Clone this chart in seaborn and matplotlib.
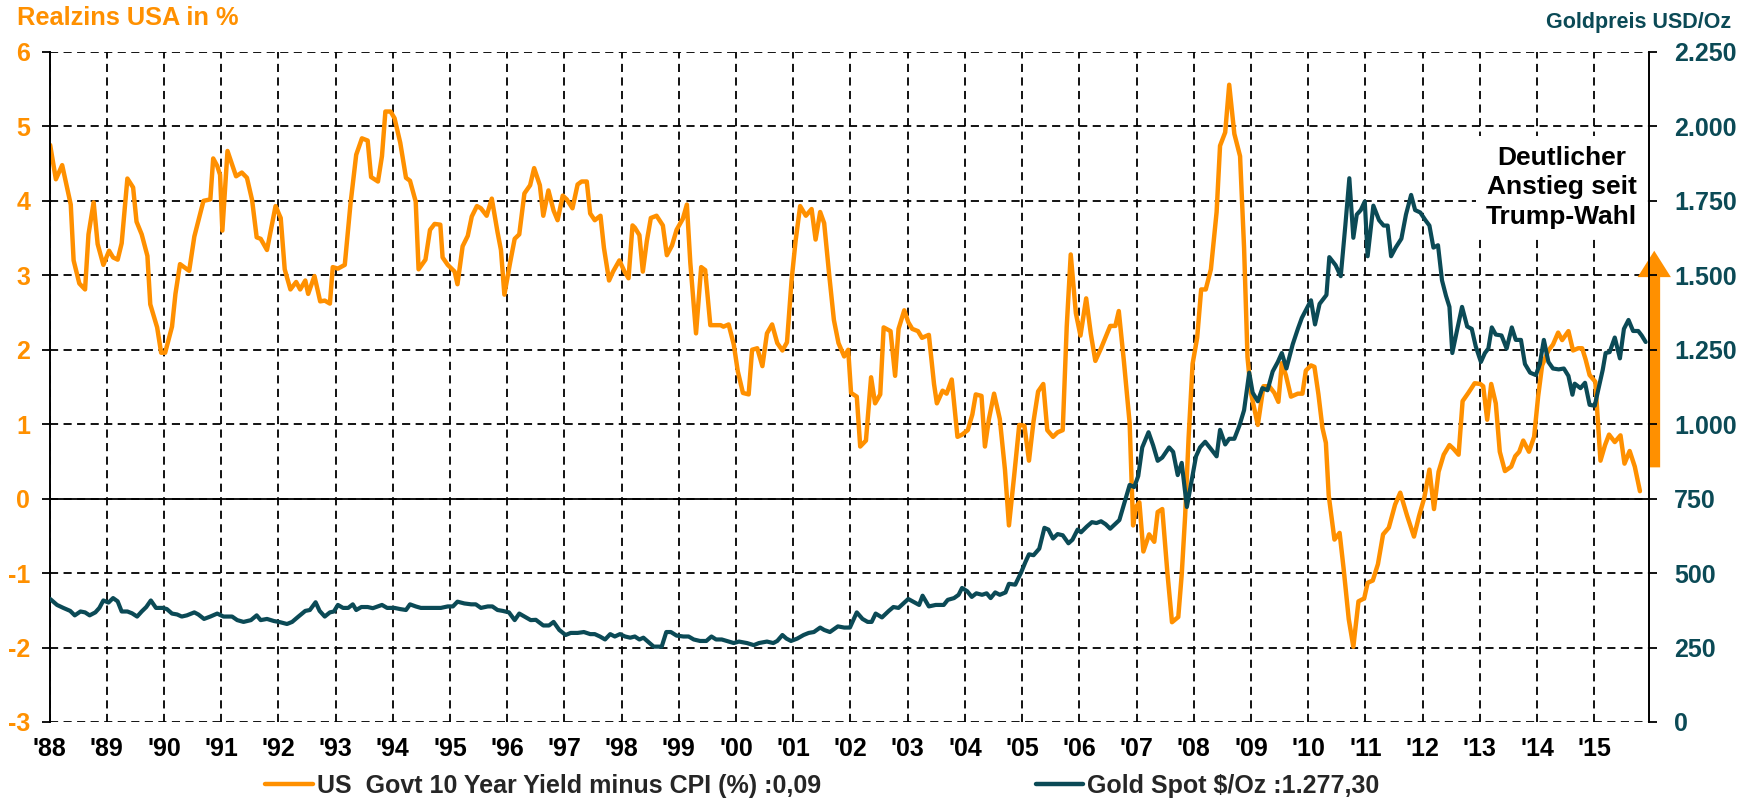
import pandas as pd
import seaborn as sns
import matplotlib.pyplot as plt
from matplotlib.ticker import FuncFormatter
from matplotlib.lines import Line2D

# Realzins USA (10J Rendite minus CPI)
jahre_zins = [
    1988.01, 1988.11, 1988.22, 1988.37, 1988.42, 1988.52, 1988.62, 1988.68, 1988.77, 1988.84,
    1988.94, 1989.04, 1989.11, 1989.19, 1989.26, 1989.36, 1989.46, 1989.52, 1989.61, 1989.71,
    1989.76, 1989.88, 1989.95, 1990.02, 1990.14, 1990.20, 1990.28, 1990.44, 1990.53, 1990.62,
    1990.69, 1990.81, 1990.86, 1990.93, 1990.98, 1991.02, 1991.11, 1991.19, 1991.26, 1991.36,
    1991.45, 1991.54, 1991.62, 1991.69, 1991.80, 1991.95, 1992.04, 1992.11, 1992.21, 1992.31,
    1992.38, 1992.47, 1992.52, 1992.63, 1992.73, 1992.81, 1992.90, 1992.95, 1993.04, 1993.16,
    1993.26, 1993.36, 1993.46, 1993.56, 1993.62, 1993.74, 1993.81, 1993.87, 1993.96, 1994.03,
    1994.13, 1994.23, 1994.30, 1994.40, 1994.45, 1994.57, 1994.65, 1994.73, 1994.83, 1994.87,
    1994.96, 1995.08, 1995.13, 1995.22, 1995.31, 1995.38, 1995.47, 1995.54, 1995.64, 1995.73,
    1995.83, 1995.89, 1995.95, 1996.05, 1996.13, 1996.21, 1996.30, 1996.40, 1996.47, 1996.57,
    1996.63, 1996.72, 1996.81, 1996.88, 1996.97, 1997.04, 1997.14, 1997.23, 1997.30, 1997.39,
    1997.45, 1997.53, 1997.63, 1997.69, 1997.78, 1997.85, 1997.96, 1998.05, 1998.12, 1998.19,
    1998.23, 1998.31, 1998.37, 1998.44, 1998.51, 1998.61, 1998.72, 1998.79, 1998.88, 1998.96,
    1999.07, 1999.14, 1999.20, 1999.30, 1999.39, 1999.46, 1999.55, 1999.73, 1999.78, 1999.87,
    1999.96, 2000.03, 2000.12, 2000.22, 2000.28, 2000.37, 2000.46, 2000.54, 2000.63, 2000.72,
    2000.81, 2000.89, 2000.97, 2001.04, 2001.12, 2001.22, 2001.32, 2001.39, 2001.47, 2001.54,
    2001.63, 2001.71, 2001.79, 2001.89, 2001.96, 2002.01, 2002.11, 2002.17, 2002.27, 2002.36,
    2002.43, 2002.52, 2002.58, 2002.70, 2002.78, 2002.84, 2002.94, 2003.01, 2003.08, 2003.18,
    2003.25, 2003.37, 2003.46, 2003.51, 2003.61, 2003.68, 2003.77, 2003.87, 2003.95, 2004.05,
    2004.13, 2004.19, 2004.29, 2004.35, 2004.42, 2004.51, 2004.61, 2004.70, 2004.77, 2004.86,
    2004.95, 2005.04, 2005.12, 2005.20, 2005.28, 2005.37, 2005.44, 2005.54, 2005.62, 2005.71,
    2005.78, 2005.85, 2005.94, 2006.02, 2006.12, 2006.20, 2006.28, 2006.38, 2006.47, 2006.54,
    2006.63, 2006.69, 2006.78, 2006.88, 2006.94, 2006.99, 2007.05, 2007.12, 2007.22, 2007.31,
    2007.37, 2007.45, 2007.54, 2007.62, 2007.73, 2007.79, 2007.85, 2007.91, 2007.98, 2008.06,
    2008.13, 2008.21, 2008.30, 2008.40, 2008.46, 2008.55, 2008.62, 2008.71, 2008.81, 2008.88,
    2008.94, 2009.00, 2009.12, 2009.22, 2009.32, 2009.41, 2009.48, 2009.54, 2009.61, 2009.70,
    2009.82, 2009.90, 2009.96, 2010.05, 2010.11, 2010.18, 2010.25, 2010.31, 2010.36, 2010.46,
    2010.55, 2010.62, 2010.71, 2010.79, 2010.88, 2010.98, 2011.04, 2011.13, 2011.22, 2011.31,
    2011.41, 2011.52, 2011.61, 2011.73, 2011.85, 2011.94, 2012.03, 2012.12, 2012.20, 2012.28,
    2012.37, 2012.47, 2012.54, 2012.63, 2012.70, 2012.80, 2012.91, 2013.01, 2013.06, 2013.13,
    2013.20, 2013.28, 2013.35, 2013.44, 2013.55, 2013.62, 2013.69, 2013.76, 2013.86, 2013.95,
    2014.02, 2014.09, 2014.20, 2014.28, 2014.37, 2014.44, 2014.55, 2014.63, 2014.72, 2014.79,
    2014.85, 2014.92, 2015.02, 2015.11, 2015.19, 2015.26, 2015.36, 2015.46, 2015.53, 2015.62,
    2015.71, 2015.80,
]
realzins = [
    4.75, 4.29, 4.48, 3.95, 3.20, 2.89, 2.81, 3.55, 3.98, 3.42,
    3.14, 3.33, 3.24, 3.21, 3.43, 4.30, 4.18, 3.72, 3.55, 3.26,
    2.61, 2.30, 1.96, 1.96, 2.31, 2.75, 3.15, 3.06, 3.52, 3.79,
    4.00, 4.02, 4.57, 4.47, 4.35, 3.60, 4.67, 4.49, 4.33, 4.38,
    4.31, 4.01, 3.51, 3.49, 3.34, 3.93, 3.77, 3.08, 2.81, 2.91,
    2.81, 2.93, 2.75, 2.99, 2.65, 2.66, 2.62, 3.11, 3.09, 3.14,
    3.96, 4.62, 4.84, 4.81, 4.32, 4.26, 4.60, 5.20, 5.20, 5.11,
    4.78, 4.31, 4.27, 3.99, 3.08, 3.21, 3.61, 3.69, 3.68, 3.24,
    3.14, 3.05, 2.88, 3.39, 3.53, 3.79, 3.93, 3.90, 3.80, 4.03,
    3.58, 3.34, 2.74, 3.17, 3.49, 3.55, 4.10, 4.21, 4.44, 4.21,
    3.80, 4.14, 3.87, 3.74, 4.07, 4.02, 3.90, 4.22, 4.26, 4.26,
    3.83, 3.74, 3.80, 3.37, 2.93, 3.05, 3.20, 3.05, 2.96, 3.67,
    3.64, 3.54, 3.05, 3.46, 3.77, 3.80, 3.67, 3.27, 3.40, 3.61,
    3.76, 3.95, 3.17, 2.22, 3.11, 3.07, 2.33, 2.33, 2.31, 2.34,
    2.07, 1.71, 1.42, 1.40, 2.00, 2.02, 1.78, 2.22, 2.34, 2.09,
    1.99, 2.10, 2.93, 3.46, 3.93, 3.80, 3.89, 3.48, 3.85, 3.70,
    2.99, 2.40, 2.09, 1.91, 2.00, 1.42, 1.37, 0.70, 0.78, 1.63,
    1.28, 1.40, 2.30, 2.25, 1.65, 2.28, 2.53, 2.37, 2.28, 2.25,
    2.16, 2.20, 1.54, 1.28, 1.45, 1.41, 1.60, 0.83, 0.86, 0.92,
    1.13, 1.40, 1.38, 0.70, 1.07, 1.41, 1.07, 0.39, -0.36, 0.30,
    0.99, 0.98, 0.51, 1.04, 1.44, 1.54, 0.92, 0.83, 0.89, 0.92,
    2.31, 3.28, 2.49, 2.19, 2.69, 2.22, 1.85, 2.02, 2.19, 2.32,
    2.32, 2.52, 1.84, 1.01, -0.36, -0.11, -0.05, -0.71, -0.48, -0.58,
    -0.18, -0.14, -1.00, -1.66, -1.59, -1.02, -0.23, 0.81, 1.81, 2.16,
    2.81, 2.81, 3.08, 3.85, 4.74, 4.92, 5.56, 4.90, 4.60, 3.37,
    1.90, 1.42, 0.99, 1.51, 1.51, 1.42, 1.30, 1.82, 1.66, 1.37,
    1.41, 1.41, 1.72, 1.79, 1.77, 1.40, 0.95, 0.75, 0.04, -0.55,
    -0.46, -0.94, -1.62, -1.99, -1.38, -1.34, -1.13, -1.10, -0.88, -0.48,
    -0.39, -0.08, 0.08, -0.23, -0.51, -0.23, 0.01, 0.39, -0.14, 0.36,
    0.59, 0.72, 0.67, 0.59, 1.31, 1.42, 1.55, 1.54, 1.51, 1.06,
    1.54, 1.28, 0.63, 0.37, 0.43, 0.57, 0.63, 0.78, 0.63, 0.83,
    1.37, 1.79, 1.99, 2.07, 2.23, 2.13, 2.25, 1.99, 2.02, 2.02,
    1.87, 1.66, 1.57, 0.51, 0.72, 0.86, 0.76, 0.85, 0.47, 0.64,
    0.43, 0.10,
]

# Goldpreis USD/Oz
jahre_gold = [
    1988.01, 1988.13, 1988.24, 1988.36, 1988.44, 1988.54, 1988.62, 1988.70, 1988.80, 1988.87,
    1988.94, 1989.03, 1989.11, 1989.19, 1989.26, 1989.36, 1989.44, 1989.53, 1989.61, 1989.69,
    1989.77, 1989.86, 1989.98, 1990.05, 1990.14, 1990.23, 1990.31, 1990.40, 1990.53, 1990.60,
    1990.70, 1990.81, 1990.93, 1991.04, 1991.19, 1991.28, 1991.39, 1991.52, 1991.62, 1991.69,
    1991.80, 1991.92, 1992.03, 1992.15, 1992.24, 1992.35, 1992.47, 1992.55, 1992.65, 1992.72,
    1992.81, 1992.90, 1992.97, 1993.04, 1993.13, 1993.22, 1993.30, 1993.36, 1993.45, 1993.56,
    1993.65, 1993.81, 1993.90, 1994.03, 1994.13, 1994.23, 1994.30, 1994.40, 1994.49, 1994.67,
    1994.84, 1994.96, 1995.05, 1995.13, 1995.25, 1995.37, 1995.45, 1995.54, 1995.66, 1995.74,
    1995.83, 1995.92, 1996.03, 1996.13, 1996.21, 1996.33, 1996.41, 1996.50, 1996.63, 1996.73,
    1996.81, 1996.91, 1997.02, 1997.11, 1997.23, 1997.34, 1997.45, 1997.53, 1997.62, 1997.71,
    1997.80, 1997.88, 1997.97, 1998.06, 1998.15, 1998.23, 1998.31, 1998.38, 1998.47, 1998.56,
    1998.70, 1998.78, 1998.86, 1998.96, 1999.08, 1999.17, 1999.26, 1999.37, 1999.48, 1999.57,
    1999.65, 1999.75, 1999.87, 1999.96, 2000.05, 2000.19, 2000.31, 2000.40, 2000.54, 2000.65,
    2000.72, 2000.81, 2000.88, 2000.96, 2001.07, 2001.18, 2001.27, 2001.36, 2001.47, 2001.54,
    2001.64, 2001.78, 2001.89, 2001.99, 2002.11, 2002.21, 2002.30, 2002.37, 2002.44, 2002.55,
    2002.67, 2002.75, 2002.84, 2003.01, 2003.20, 2003.26, 2003.37, 2003.49, 2003.63, 2003.70,
    2003.81, 2003.89, 2003.95, 2004.04, 2004.12, 2004.20, 2004.30, 2004.38, 2004.45, 2004.53,
    2004.61, 2004.71, 2004.77, 2004.88, 2004.98, 2005.06, 2005.12, 2005.20, 2005.30, 2005.39,
    2005.46, 2005.54, 2005.62, 2005.71, 2005.81, 2005.88, 2005.97, 2006.03, 2006.13, 2006.22,
    2006.30, 2006.38, 2006.46, 2006.54, 2006.70, 2006.78, 2006.88, 2006.96, 2007.03, 2007.10,
    2007.21, 2007.29, 2007.37, 2007.45, 2007.57, 2007.64, 2007.72, 2007.79, 2007.88, 2007.97,
    2008.04, 2008.11, 2008.20, 2008.30, 2008.40, 2008.46, 2008.55, 2008.62, 2008.71, 2008.80,
    2008.88, 2008.97, 2009.03, 2009.12, 2009.20, 2009.29, 2009.38, 2009.47, 2009.54, 2009.62,
    2009.73, 2009.82, 2009.89, 2009.99, 2010.05, 2010.12, 2010.20, 2010.32, 2010.37, 2010.48,
    2010.57, 2010.65, 2010.72, 2010.79, 2010.85, 2010.92, 2010.99, 2011.04, 2011.14, 2011.24,
    2011.32, 2011.39, 2011.45, 2011.53, 2011.63, 2011.71, 2011.80, 2011.87, 2011.96, 2012.05,
    2012.12, 2012.19, 2012.27, 2012.34, 2012.41, 2012.47, 2012.52, 2012.60, 2012.69, 2012.78,
    2012.86, 2012.93, 2013.02, 2013.09, 2013.15, 2013.21, 2013.28, 2013.38, 2013.47, 2013.56,
    2013.63, 2013.72, 2013.79, 2013.88, 2013.98, 2014.05, 2014.12, 2014.20, 2014.28, 2014.38,
    2014.47, 2014.55, 2014.62, 2014.66, 2014.76, 2014.84, 2014.92, 2015.01, 2015.06, 2015.15,
    2015.20, 2015.27, 2015.36, 2015.45, 2015.52, 2015.60, 2015.68, 2015.77, 2015.83, 2015.90,
]
goldpreis = [
    413, 393, 383, 373, 358, 371, 368, 358, 368, 383,
    408, 401, 416, 405, 371, 371, 365, 354, 371, 386,
    408, 383, 383, 379, 364, 361, 354, 358, 368, 361,
    346, 354, 364, 354, 354, 342, 336, 342, 358, 342,
    346, 339, 335, 329, 336, 354, 373, 376, 402, 373,
    354, 368, 371, 393, 383, 383, 395, 376, 386, 386,
    382, 393, 383, 383, 379, 376, 395, 388, 383, 383,
    383, 388, 388, 404, 398, 395, 395, 383, 388, 388,
    376, 373, 368, 342, 364, 351, 342, 343, 324, 324,
    336, 309, 292, 299, 299, 302, 295, 295, 287, 277,
    295, 287, 295, 287, 283, 287, 277, 283, 268, 253,
    253, 302, 302, 290, 287, 287, 277, 272, 272, 287,
    277, 277, 270, 265, 270, 265, 258, 265, 270, 265,
    272, 292, 280, 272, 280, 292, 299, 302, 317, 309,
    302, 321, 317, 317, 368, 346, 336, 336, 364, 351,
    373, 386, 383, 413, 393, 424, 388, 393, 393, 410,
    416, 427, 450, 439, 420, 432, 427, 432, 416, 435,
    427, 435, 464, 461, 501, 538, 563, 560, 582, 652,
    646, 616, 631, 627, 600, 612, 646, 637, 656, 671,
    668, 674, 664, 649, 678, 730, 796, 789, 826, 922,
    973, 929, 877, 888, 922, 907, 829, 870, 722, 818,
    892, 922, 941, 917, 892, 981, 932, 951, 951, 996,
    1047, 1173, 1106, 1077, 1121, 1114, 1177, 1209, 1239, 1187,
    1268, 1320, 1357, 1394, 1416, 1335, 1404, 1434, 1561, 1534,
    1497, 1667, 1826, 1626, 1704, 1719, 1748, 1564, 1734, 1685,
    1667, 1667, 1564, 1593, 1623, 1704, 1770, 1719, 1711, 1685,
    1667, 1593, 1601, 1483, 1431, 1394, 1239, 1313, 1394, 1328,
    1320, 1261, 1209, 1239, 1254, 1325, 1301, 1298, 1254, 1325,
    1283, 1283, 1202, 1173, 1165, 1202, 1283, 1209, 1187, 1184,
    1187, 1162, 1099, 1136, 1121, 1139, 1065, 1062, 1106, 1183,
    1239, 1242, 1291, 1221, 1320, 1350, 1313, 1313, 1298, 1276,
]

jahres_ticks = list(range(1988, 2016))
jahres_labels = ["'" + str(j)[2:] for j in jahres_ticks]
zins_ticks = list(range(-3, 7))
gold_ticks = list(range(0, 2251, 250))

orange = '#FF9000'
teal = '#0B4A56'

sns.set_style('white')
plt.rcParams['font.family'] = ['Liberation Sans', 'DejaVu Sans']
plt.rcParams['axes.unicode_minus'] = False

df_zins = pd.DataFrame({'jahr': jahre_zins, 'wert': realzins})
df_gold = pd.DataFrame({'jahr': jahre_gold, 'wert': goldpreis})

fig = plt.figure(figsize=(17.46, 8.02), dpi=100)
ax = fig.add_axes([0.0284, 0.0998, 0.9161, 0.8354])
ax2 = ax.twinx()

sns.lineplot(data=df_zins, x='jahr', y='wert', ax=ax, color=orange, linewidth=3.2, legend=False)
sns.lineplot(data=df_gold, x='jahr', y='wert', ax=ax2, color=teal, linewidth=3.0, legend=False)

ax.set_xlim(1988, 2015.96)
ax.set_ylim(-3, 6)
ax2.set_ylim(0, 2250)

ax.set_xticks(jahres_ticks)
ax.set_xticklabels(jahres_labels, fontweight='bold', fontsize=18)
ax.set_yticks(zins_ticks)
ax2.set_yticks(gold_ticks)
ax2.yaxis.set_major_formatter(FuncFormatter(lambda v, p: f"{int(v):,}".replace(',', '.')))

for label in ax.get_yticklabels() + ax2.get_yticklabels():
    label.set_fontweight('bold')
    label.set_fontsize(18)

ax.set_xlabel('')
ax.set_ylabel('')
ax2.set_ylabel('')

ax.grid(True, color='black', linestyle=(0, (4.5, 3)), linewidth=1.3)
ax2.grid(False)
ax.axhline(0, color='black', linewidth=1.3, zorder=1.6)

ax.tick_params(axis='x', length=0, pad=11, colors='black')
ax.tick_params(axis='y', length=6, width=1.3, color='black', labelcolor=orange, pad=8)
ax2.tick_params(axis='y', length=6, width=1.3, color='black', labelcolor=teal, pad=12)

for s in ['top', 'bottom']:
    ax.spines[s].set_visible(False)
    ax2.spines[s].set_visible(False)
ax.spines['right'].set_visible(False)
ax2.spines['left'].set_visible(False)
ax.spines['left'].set_color('black')
ax.spines['left'].set_linewidth(1.4)
ax2.spines['right'].set_color('black')
ax2.spines['right'].set_linewidth(1.4)

fig.text(0.0097, 0.977, 'Realzins USA in %', color=orange, fontsize=18.3,
         fontweight='bold', ha='left', va='center')
fig.text(0.9915, 0.972, 'Goldpreis USD/Oz', color=teal, fontsize=15.5,
         fontweight='bold', ha='right', va='center')

ax.text(2014.43, 4.18, 'Deutlicher\nAnstieg seit\nTrump-Wahl', ha='center', va='center',
        fontsize=19, fontweight='bold', linespacing=1.3, color='black', zorder=5,
        bbox=dict(facecolor='white', edgecolor='none', pad=7))

ax.annotate('', xy=(2016.05, 3.33), xytext=(2016.05, 0.42), xycoords='data',
            arrowprops=dict(facecolor=orange, edgecolor='none', width=8.5,
                            headwidth=24, headlength=19, shrink=0),
            annotation_clip=False)

handles = [Line2D([], [], color=orange, linewidth=3.2), Line2D([], [], color=teal, linewidth=3.2)]
labels = ['US  Govt 10 Year Yield minus CPI (%) :0,09', 'Gold Spot $/Oz :1.277,30']
fig.legend(handles, labels, loc='center', bbox_to_anchor=(0.471, 0.02), ncol=2,
           frameon=False, handlelength=1.9, handletextpad=0.15, columnspacing=8.6,
           prop={'weight': 'bold', 'size': 18})

fig.savefig('out.png', dpi=100)
